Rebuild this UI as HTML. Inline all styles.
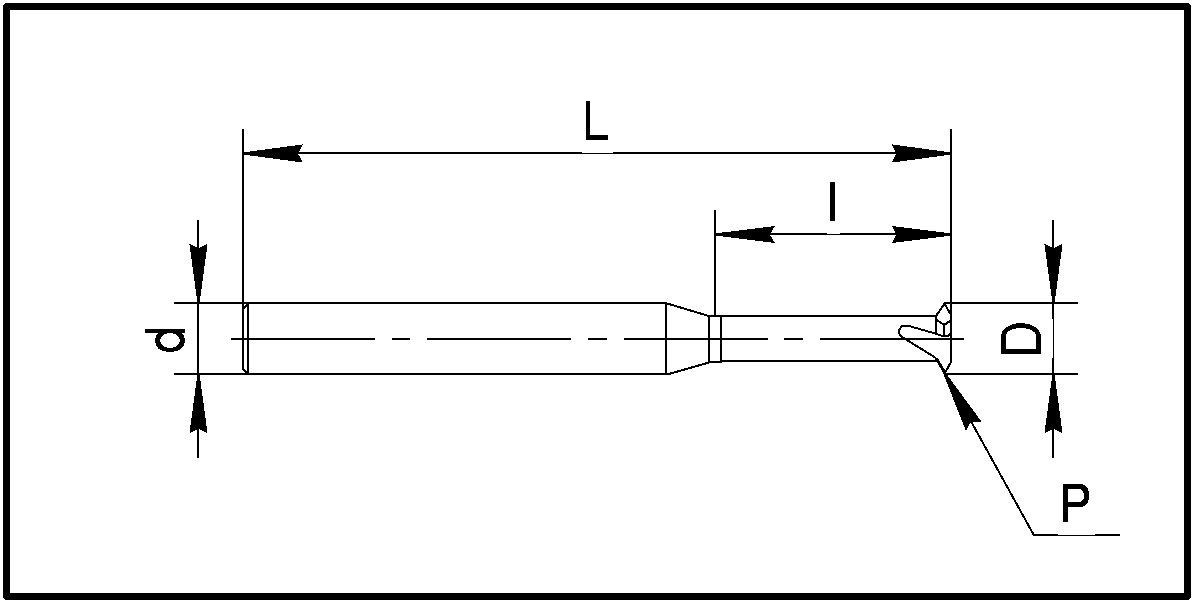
<!DOCTYPE html>
<html><head><meta charset="utf-8"><style>html,body{margin:0;padding:0;background:#fff;}svg{display:block}</style></head>
<body><svg width="1193" height="603" viewBox="0 0 1193 603">
<rect width="1193" height="603" fill="#fff"/>
<g stroke="#000" fill="none" stroke-linecap="butt" stroke-linejoin="miter" shape-rendering="crispEdges">
<path fill="#000" stroke="none" fill-rule="evenodd" d="M5.5,3H1188.5L1191,5.5V597.5L1188.5,600H5.5L3,597.5V5.5ZM10,10V593H1184V10Z"/>
<line x1="243" y1="129" x2="243" y2="304" stroke-width="2"/>
<line x1="951" y1="129" x2="951" y2="362" stroke-width="2"/>
<line x1="243" y1="153" x2="582" y2="153" stroke-width="2"/>
<line x1="613" y1="153" x2="951" y2="153" stroke-width="2"/>
<line x1="582" y1="153.5" x2="613" y2="153.5" stroke-width="1"/>
<polygon points="244.0,152.3 303.0,144.43 297.8,153.5 303.0,162.57 244.0,154.7" fill="#000" stroke="none"/>
<polygon points="950.0,154.7 892.0,162.57 896.2,153.5 892.0,144.43 950.0,152.3" fill="#000" stroke="none"/>
<line x1="715" y1="210" x2="715" y2="316" stroke-width="2"/>
<line x1="715" y1="234" x2="827" y2="234" stroke-width="2"/>
<line x1="840" y1="234" x2="951" y2="234" stroke-width="2"/>
<line x1="827" y1="234.5" x2="840" y2="234.5" stroke-width="1"/>
<polygon points="716.0,233.3 775.0,226.0 769.8,234.5 775.0,243.0 716.0,235.7" fill="#000" stroke="none"/>
<polygon points="950.0,235.7 892.0,243.0 896.2,234.5 892.0,226.0 950.0,233.3" fill="#000" stroke="none"/>
<line x1="198" y1="220" x2="198" y2="458" stroke-width="2"/>
<line x1="174" y1="303" x2="243" y2="303" stroke-width="2"/>
<line x1="174" y1="374" x2="243" y2="374" stroke-width="2"/>
<polygon points="197.3,302.0 189.43,244.0 198.5,248.2 207.57,244.0 199.7,302.0" fill="#000" stroke="none"/>
<polygon points="199.7,375.0 207.57,433.5 198.5,428.8 189.43,433.5 197.3,375.0" fill="#000" stroke="none"/>
<line x1="1053" y1="220" x2="1053" y2="319" stroke-width="2"/>
<line x1="1053" y1="358" x2="1053" y2="458" stroke-width="2"/>
<line x1="1053.5" y1="319" x2="1053.5" y2="358" stroke-width="1"/>
<line x1="945" y1="303" x2="1078" y2="303" stroke-width="2"/>
<line x1="945" y1="374" x2="1078" y2="374" stroke-width="2"/>
<polygon points="1052.3,302.0 1044.43,244.0 1053.5,248.2 1062.57,244.0 1054.7,302.0" fill="#000" stroke="none"/>
<polygon points="1054.7,375.0 1062.57,433.5 1053.5,428.8 1044.43,433.5 1052.3,375.0" fill="#000" stroke="none"/>
<line x1="243" y1="303" x2="667" y2="303" stroke-width="2"/>
<line x1="243" y1="374" x2="667" y2="374" stroke-width="2"/>
<polyline points="243,304 243,369 247,373.5" stroke-width="2"/>
<line x1="248" y1="303" x2="248" y2="374" stroke-width="2"/>
<polyline points="244,309 246.5,305" stroke-width="2"/>
<rect x="246" y="304" width="1" height="1" fill="#000" stroke="none"/>
<line x1="666" y1="302" x2="666" y2="375" stroke-width="2"/>
<polyline points="667,303.5 709,316" stroke-width="2"/>
<polyline points="667,374.5 709,362.5" stroke-width="2"/>
<line x1="709" y1="315" x2="709" y2="363" stroke-width="2"/>
<line x1="721" y1="315" x2="721" y2="362" stroke-width="2"/>
<line x1="708" y1="362" x2="722" y2="362" stroke-width="2"/>
<line x1="708" y1="316" x2="937" y2="316" stroke-width="2"/>
<line x1="721" y1="361" x2="937" y2="361" stroke-width="2"/>
<line x1="936" y1="315" x2="936" y2="334" stroke-width="2"/>
<polyline points="951,302 951,362 945,373" stroke-width="2"/>
<polyline points="936,316 944.5,303.5 951,315" stroke-width="2"/>
<polyline points="937,320 944,325 950,321" stroke-width="2"/>
<line x1="944" y1="324" x2="944" y2="337" stroke-width="2"/>
<polyline points="951,333 948,336 942,336 937,334 909,326 902,326 899,330 899.5,334 902,337 906,339.5 936,358" stroke-width="2"/>
<polyline points="936,358 945,373" stroke-width="3"/>
<line x1="231" y1="339" x2="375" y2="339" stroke-width="2"/>
<line x1="392" y1="339" x2="410" y2="339" stroke-width="2"/>
<line x1="427" y1="339" x2="571" y2="339" stroke-width="2"/>
<line x1="588" y1="339" x2="607" y2="339" stroke-width="2"/>
<line x1="624" y1="339" x2="768" y2="339" stroke-width="2"/>
<line x1="784" y1="339" x2="803" y2="339" stroke-width="2"/>
<line x1="820" y1="339" x2="964" y2="339" stroke-width="2"/>
<polygon points="945.35,372.42 981.75,422.0 971.15,421.57 965.87,430.77 943.25,373.58" fill="#000" stroke="none"/>
<line x1="944.3" y1="373" x2="1033.5" y2="534.5" stroke-width="2"/>
<line x1="1033" y1="535" x2="1058" y2="535" stroke-width="2"/>
<line x1="1095" y1="535" x2="1120" y2="535" stroke-width="2"/>
<line x1="1058" y1="535.5" x2="1095" y2="535.5" stroke-width="1"/>
</g>
<g fill="#000" stroke="none" shape-rendering="crispEdges">
<path d="M586,101H590V135H608V140H586Z"/>
<path d="M830,182H835V221H830Z"/>
<path d="M145,329H185V333H145Z"/>
<path fill-rule="evenodd" d="M155,340.5C155,347.86 160.40,352.0 170,352.0C179.60,352.0 185,347.86 185,340.5C185,333.14 179.60,329.0 170,329.0C160.40,329.0 155,333.14 155,340.5ZM160,340.5C160,344.62 164.50,348.0 170,348.0C175.50,348.0 180,344.62 180,340.5C180,336.38 175.50,333.0 170,333.0C164.50,333.0 160,336.38 160,340.5Z"/>
<path fill-rule="evenodd" d="M1001,354V335C1002,330 1008,323 1021,323C1034,323 1040,330 1041,335V354ZM1006,349V335C1007,332 1010,328 1021,328C1032,328 1035,332 1036,335V349Z"/>
<path fill-rule="evenodd" d="M1063,522V484H1082L1086,486L1088,489L1089,492V499L1088,502L1086,505L1082,507H1068V522ZM1068,489H1080L1083,492L1084,494V498L1083,500L1080,502H1068Z"/>
</g>
</svg></body></html>
